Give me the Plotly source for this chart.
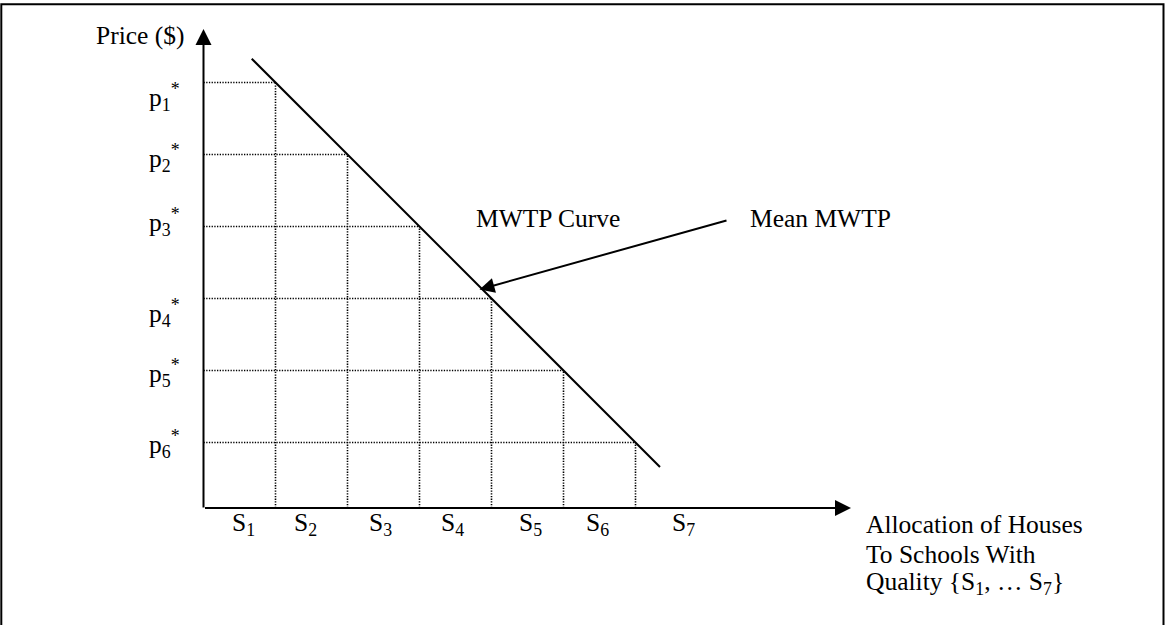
import plotly.graph_objects as go

# ---------------- data ----------------
school_labels = ["S<sub>1</sub>", "S<sub>2</sub>", "S<sub>3</sub>", "S<sub>4</sub>",
                 "S<sub>5</sub>", "S<sub>6</sub>", "S<sub>7</sub>"]
price_labels = ["p<sub>1</sub><sup>*</sup>", "p<sub>2</sub><sup>*</sup>",
                "p<sub>3</sub><sup>*</sup>", "p<sub>4</sub><sup>*</sup>",
                "p<sub>5</sub><sup>*</sup>", "p<sub>6</sub><sup>*</sup>"]
allocation_bounds = [1, 2, 3, 4, 5, 6]                     # quantity where each step ends
reservation_prices = [5.91, 4.91, 3.91, 2.91, 1.91, 0.91]  # p1* .. p6*
mwtp_x = [0.67, 6.34]                                       # MWTP curve end points
mwtp_y = [6.24, 0.57]
x_axis_label = ["Allocation of Houses", "To Schools With",
                "Quality {S<sub>1</sub>, … S<sub>7</sub>}"]

# ---------------- layout helpers (pixel -> data units) ----------------
W, H = 1166, 625
X0, Y0, U = 203.5, 508.0, 72.0
TX = 2.0  # annotation box inset


def dx(px):
    return (px - X0) / U


def dy(py):
    return (Y0 - py) / U


FONT = dict(family="Liberation Serif, Times New Roman, serif", size=25.5, color="black")
MID = 8.7  # baseline -> visual middle offset

fig = go.Figure()

# dotted step grid under the curve
gx, gy = [], []
for q, p in zip(allocation_bounds, reservation_prices):
    gx += [0, q, None, q, q, None]
    gy += [p, p, None, 0, p, None]
fig.add_trace(go.Scatter(x=gx, y=gy, mode="lines", hoverinfo="skip",
                         line=dict(color="black", width=1.6, dash="1.3px,1.4px")))

# MWTP curve
fig.add_trace(go.Scatter(x=mwtp_x, y=mwtp_y, mode="lines", hoverinfo="skip",
                         line=dict(color="black", width=2)))

ann = []
# axes as arrows
ann.append(dict(x=dx(851), y=0, ax=0, ay=0, xref="x", yref="y", axref="x", ayref="y",
                text="", showarrow=True, arrowhead=2, arrowsize=1.6, arrowwidth=2,
                arrowcolor="black", standoff=0))
ann.append(dict(x=0, y=dy(29), ax=0, ay=dy(509), xref="x", yref="y", axref="x", ayref="y",
                text="", showarrow=True, arrowhead=2, arrowsize=1.6, arrowwidth=2,
                arrowcolor="black", standoff=0))
# Mean MWTP pointer
ann.append(dict(x=dx(479.5), y=dy(289.5), ax=dx(728), ay=dy(220), xref="x", yref="y",
                axref="x", ayref="y", text="", showarrow=True, arrowhead=2, arrowsize=1.5,
                arrowwidth=2, arrowcolor="black", standoff=0))


def label(text, left_px, base_px):
    ann.append(dict(x=dx(left_px - TX), y=dy(base_px - MID), xref="x", yref="y", text=text,
                    showarrow=False, xanchor="left", yanchor="middle", font=FONT,
                    borderpad=0))


label("Price ($)", 97, 44)
for t, b in zip(price_labels, [106, 167, 231, 322, 382, 453]):
    label(t, 150, b)
for t, l in zip(school_labels, [233, 295, 370, 442, 520, 587, 673]):
    label(t, l, 533)
label("MWTP Curve", 477, 227)
label("Mean MWTP", 751, 227)
for t, b in zip(x_axis_label, [533, 563, 592]):
    label(t, 867, b)

fig.update_layout(
    width=W, height=H,
    margin=dict(l=0, r=0, t=0, b=0),
    paper_bgcolor="white", plot_bgcolor="white",
    showlegend=False,
    xaxis=dict(visible=False, range=[dx(0), dx(W)], fixedrange=True),
    yaxis=dict(visible=False, range=[dy(H), dy(0)], fixedrange=True),
    annotations=ann,
    shapes=[dict(type="rect", xref="paper", yref="paper",
                 x0=1.3 / W, x1=1163.5 / W, y0=1 - 627 / H, y1=1 - 4.3 / H,
                 line=dict(color="black", width=2), fillcolor="rgba(0,0,0,0)")],
)

fig.write_html("out.html", config={"displayModeBar": False},
               post_script="document.body.style.margin='0px';"
                           "document.body.style.overflow='hidden';")
